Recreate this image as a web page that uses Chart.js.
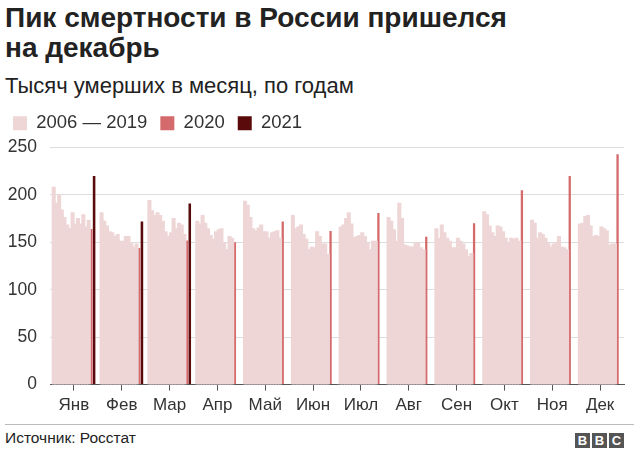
<!DOCTYPE html>
<html>
<head>
<meta charset="utf-8">
<script src="https://cdn.jsdelivr.net/npm/chart.js@4/dist/chart.umd.min.js"></script>
<style>
    body { margin: 0; width: 640px; height: 455px; background: #fff; font-family: "Liberation Sans", Arial, sans-serif; position: relative; overflow: hidden; }
    #title { position: absolute; left: 5px; top: 3px; font-size: 28px; font-weight: bold; line-height: 30px; color: #222; }
    #subtitle { position: absolute; left: 5px; top: 73px; font-size: 22px; color: #222; }
    #chartBox { position: absolute; left: 0; top: 101px; width: 640px; height: 320px; }
    #rule { position: absolute; left: 5px; right: 6px; top: 424px; border-top: 1px solid #bbb; }
    #source { position: absolute; left: 5px; top: 429px; font-size: 15.5px; color: #222; }
    #bbc { position: absolute; left: 575px; top: 431px; }
    #bbc span { display: inline-block; width: 15px; height: 15px; margin-right: 2px; background: #555; color: #fff; font-weight: bold; font-size: 13px; line-height: 15px; text-align: center; }
</style>
</head>
<body>
<div id="title">Пик смертности в России пришелся<br>на декабрь</div>
<div id="subtitle">Тысяч умерших в месяц, по годам</div>
<div id="chartBox"><canvas id="deaths"></canvas></div>
<div id="rule"></div>
<div id="source">Источник: Росстат</div>
<div id="bbc"><span>B</span><span>B</span><span>C</span></div>

<script>
var months = ['Янв', 'Фев', 'Мар', 'Апр', 'Май', 'Июн', 'Июл', 'Авг', 'Сен', 'Окт', 'Ноя', 'Дек'];
var yTicks = [0, 50, 100, 150, 200, 250];

// thousand deaths per month, one array per year
var y2006 = [208, 181, 194, 172, 193, 178, 166, 176, 164, 182, 173, 169];
var y2007 = [191, 172, 183, 169, 189, 164, 168, 172, 154, 179, 170, 170];
var y2008 = [200, 167, 178, 178, 176, 166, 175, 163, 168, 167, 154, 177];
var y2009 = [184, 161, 181, 170, 164, 168, 181, 151, 160, 160, 160, 178];
var y2010 = [176, 160, 178, 164, 162, 158, 169, 191, 154, 156, 158, 167];
var y2011 = [168, 156, 172, 157, 165, 153, 155, 175, 151, 167, 154, 156];
var y2012 = [164, 158, 161, 153, 168, 142, 156, 147, 144, 166, 149, 157];
var y2013 = [181, 151, 156, 161, 161, 145, 157, 146, 144, 161, 145, 156];
var y2014 = [169, 151, 160, 163, 161, 144, 160, 145, 154, 154, 148, 166];
var y2015 = [175, 156, 175, 164, 154, 161, 156, 145, 151, 150, 149, 164];
var y2016 = [169, 156, 164, 149, 160, 156, 149, 149, 148, 154, 156, 162];
var y2017 = [179, 149, 170, 142, 161, 148, 142, 149, 142, 153, 145, 147];
var y2018 = [166, 145, 168, 156, 162, 148, 151, 144, 135, 154, 144, 148];
var y2019 = [173, 148, 158, 154, 154, 137, 151, 142, 138, 151, 142, 148];
var y2020 = [164, 144, 152, 150, 172, 162, 181, 156, 170, 205, 220, 243];
var y2021 = [220, 172, 191, null, null, null, null, null, null, null, null, null];

var pastYears = [y2006, y2007, y2008, y2009, y2010, y2011, y2012, y2013, y2014, y2015, y2016, y2017, y2018, y2019];

var Deaths = {
    colors: {
        past: '#efd6d6',
        y2020: '#d46a6b',
        y2021: '#5a0a0a',
        grid: '#dddddd',
        axis: '#555555',
        text: '#333333'
    },

    init: function () {
        Chart.defaults.font.family = '"Liberation Sans", Arial, sans-serif';
        Chart.defaults.color = Deaths.colors.text;
        Deaths.buildChart();
    },
    buildDatasets: function () {
        let datasets = [];
        for (let i = 0; i < pastYears.length; i++) {
            datasets.push({
                label: i === 0 ? '2006 — 2019' : String(2006 + i),
                data: pastYears[i],
                backgroundColor: Deaths.colors.past,
                barPercentage: 1.0,
                inflateAmount: 0.7
            });
        }
        datasets.push({
            label: '2020',
            data: y2020,
            backgroundColor: Deaths.colors.y2020,
            barPercentage: 0.85
        });
        datasets.push({
            label: '2021',
            data: y2021,
            backgroundColor: Deaths.colors.y2021,
            barPercentage: 0.95
        });
        return datasets;
    },
    // a bit more room under the legend
    legendMargin: {
        id: 'legendMargin',
        beforeInit: function (chart) {
            let fit = chart.legend.fit;
            chart.legend.fit = function () {
                fit.bind(chart.legend)();
                this.height += 5;
            };
        }
    },
    buildChart: function () {
        let canvas = document.getElementById('deaths');
        let chart = new Chart(canvas, {
            type: 'bar',
            data: {
                labels: months,
                datasets: Deaths.buildDatasets()
            },
            plugins: [Deaths.legendMargin],
            options: {
                responsive: true,
                maintainAspectRatio: false,
                animation: false,
                categoryPercentage: 0.9,
                layout: {
                    padding: { left: 0, right: 16, top: 0, bottom: 0 }
                },
                plugins: {
                    tooltip: { enabled: false },
                    legend: {
                        display: true,
                        position: 'top',
                        align: 'start',
                        labels: {
                            boxWidth: 14,
                            boxHeight: 14,
                            padding: 13,
                            color: Deaths.colors.text,
                            font: { size: 18.5 },
                            filter: function (item) {
                                return item.datasetIndex === 0 || item.datasetIndex >= pastYears.length;
                            }
                        }
                    }
                },
                scales: {
                    x: {
                        grid: {
                            offset: false,
                            drawOnChartArea: false,
                            drawTicks: true,
                            tickLength: 6,
                            color: Deaths.colors.axis
                        },
                        border: { display: true, color: Deaths.colors.axis, width: 1 },
                        ticks: {
                            padding: 5,
                            font: { size: 17 },
                            color: Deaths.colors.text
                        }
                    },
                    y: {
                        min: 0,
                        max: 250,
                        afterBuildTicks: function (axis) {
                            axis.ticks = yTicks.map(function (v) { return { value: v }; });
                        },
                        afterFit: function (axis) {
                            axis.width = 50;
                        },
                        grid: {
                            color: Deaths.colors.grid,
                            drawTicks: false
                        },
                        border: { display: false },
                        ticks: {
                            padding: 13,
                            font: { size: 17.5 },
                            color: Deaths.colors.text
                        }
                    }
                }
            }
        });
    }
};

Deaths.init();
</script>
</body>
</html>
